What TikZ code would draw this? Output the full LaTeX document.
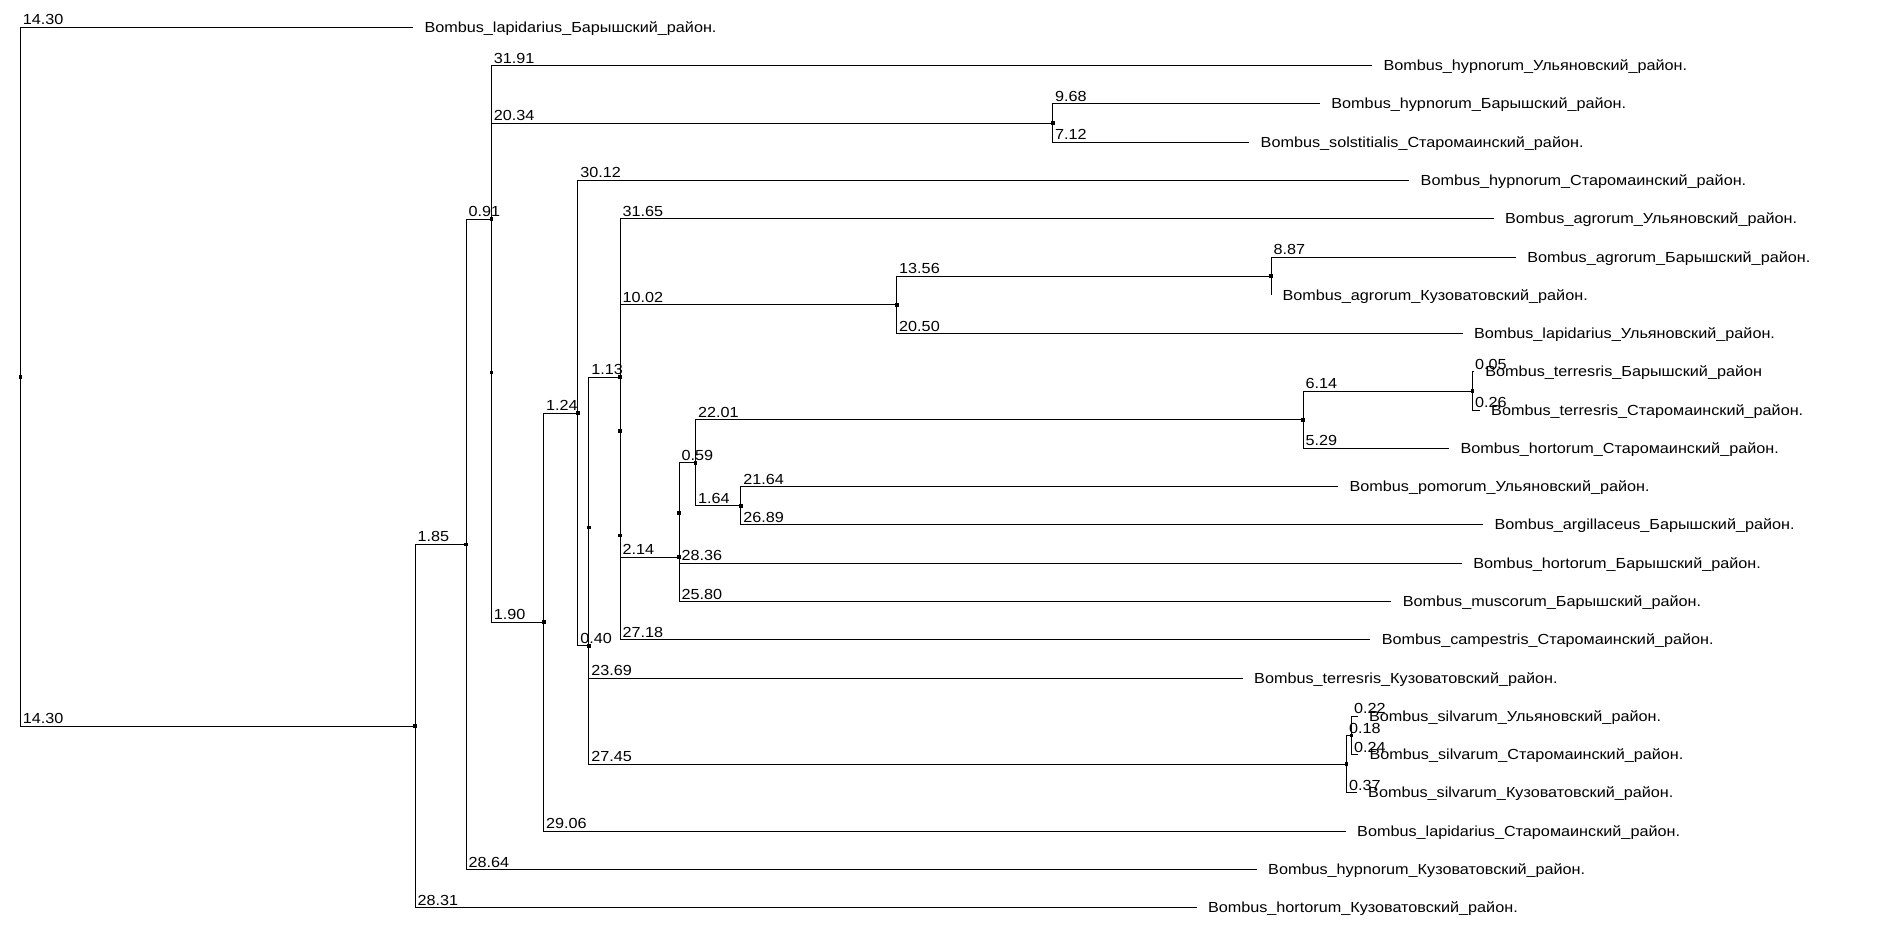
\documentclass[tikz,border=0pt]{standalone}
\usepackage{fontspec}
\setmainfont{Liberation Sans}[FakeStretch=1.11]
\tikzset{
  tree/.style={x=0.5pt, y=-0.5pt, line width=0.5pt},
  leaf/.style={anchor=base west, inner sep=0pt, xshift=5.5pt, yshift=-2.5pt},
  blen/.style={anchor=base west, inner sep=0pt, xshift=1pt, yshift=1.25pt},
}

\begin{document}
\begin{tikzpicture}[tree, font=\fontsize{7.3pt}{8pt}\selectfont]
  \useasboundingbox (0,0) rectangle (1898,947);
  % inner nodes
  \coordinate (R) at (20.4,376.7);
  \coordinate (A) at (415.1,726.0);
  \coordinate (B) at (466.2,544.3);
  \coordinate (C) at (491.3,219.1);
  \coordinate (D) at (491.3,372.6);
  \coordinate (E) at (1052.7,123.0);
  \coordinate (F) at (543.7,622.2);
  \coordinate (G) at (577.9,413.2);
  \coordinate (H) at (588.9,645.9);
  \coordinate (H2) at (588.9,527.6);
  \coordinate (I) at (620.1,377.0);
  \coordinate (I2) at (620.1,535.4);
  \coordinate (I3) at (620.1,431.0);
  \coordinate (K) at (896.7,304.8);
  \coordinate (N) at (1271.0,276.2);
  \coordinate (M) at (679.2,557.2);
  \coordinate (M2) at (679.2,513.0);
  \coordinate (P) at (695.5,462.7);
  \coordinate (Q) at (1303.0,419.7);
  \coordinate (T) at (1472.5,391.0);
  \coordinate (S) at (740.8,505.8);
  \coordinate (J) at (1346.5,764.2);
  \coordinate (U) at (1351.5,735.5);
  % leaves
  \coordinate (l1) at (413.0,27.3);
  \coordinate (l2) at (1372.0,65.6);
  \coordinate (l3) at (1319.9,103.9);
  \coordinate (l4) at (1249.2,142.1);
  \coordinate (l5) at (1409.2,180.4);
  \coordinate (l6) at (1493.6,218.7);
  \coordinate (l7) at (1515.8,257.0);
  \coordinate (l8) at (1271.0,295.3);
  \coordinate (l9) at (1462.5,333.5);
  \coordinate (l10) at (1473.9,371.8);
  \coordinate (l11) at (1479.7,410.1);
  \coordinate (l12) at (1449.0,448.4);
  \coordinate (l13) at (1338.1,486.7);
  \coordinate (l14) at (1483.0,524.9);
  \coordinate (l15) at (1461.9,563.2);
  \coordinate (l16) at (1391.3,601.5);
  \coordinate (l17) at (1370.3,639.8);
  \coordinate (l18) at (1242.7,678.1);
  \coordinate (l19) at (1357.6,716.3);
  \coordinate (l20) at (1358.1,754.6);
  \coordinate (l21) at (1356.7,792.9);
  \coordinate (l22) at (1345.7,831.2);
  \coordinate (l23) at (1256.7,869.5);
  \coordinate (l24) at (1196.5,907.7);

  % branches
  \draw (R) |- (l1) node[pos=0.5,blen] {14.30} node[leaf] (t1) {Bombus\_lapidarius\_Барышский\_район.};
  \draw (R) |- (A) node[pos=0.5,blen] {14.30};
  \draw (A) |- (B) node[pos=0.5,blen] {1.85};
  \draw (A) |- (l24) node[pos=0.5,blen] {28.31} node[leaf] (t24) {Bombus\_hortorum\_Кузоватовский\_район.};
  \draw (B) |- (C) node[pos=0.5,blen] {0.91};
  \draw (B) |- (l23) node[pos=0.5,blen] {28.64} node[leaf] (t23) {Bombus\_hypnorum\_Кузоватовский\_район.};
  \draw (C) |- (l2) node[pos=0.5,blen] {31.91} node[leaf] (t2) {Bombus\_hypnorum\_Ульяновский\_район.};
  \draw (C) -- (D);
  \draw (D) |- (E) node[pos=0.5,blen] {20.34};
  \draw (D) |- (F) node[pos=0.5,blen] {1.90};
  \draw (E) |- (l3) node[pos=0.5,blen] {9.68} node[leaf] (t3) {Bombus\_hypnorum\_Барышский\_район.};
  \draw (E) |- (l4) node[pos=0.5,blen] {7.12} node[leaf] (t4) {Bombus\_solstitialis\_Старомаинский\_район.};
  \draw (F) |- (G) node[pos=0.5,blen] {1.24};
  \draw (F) |- (l22) node[pos=0.5,blen] {29.06} node[leaf] (t22) {Bombus\_lapidarius\_Старомаинский\_район.};
  \draw (G) |- (l5) node[pos=0.5,blen] {30.12} node[leaf] (t5) {Bombus\_hypnorum\_Старомаинский\_район.};
  \draw (G) |- (H) node[pos=0.5,blen] {0.40};
  \draw (H) -- (H2);
  \draw (H) |- (J) node[pos=0.5,blen] {27.45};
  \draw (H2) |- (I) node[pos=0.5,blen] {1.13};
  \draw (H2) |- (l18) node[pos=0.5,blen] {23.69} node[leaf] (t18) {Bombus\_terresris\_Кузоватовский\_район.};
  \draw (I) |- (l6) node[pos=0.5,blen] {31.65} node[leaf] (t6) {Bombus\_agrorum\_Ульяновский\_район.};
  \draw (I) -- (I2);
  \draw (I2) -- (I3);
  \draw (I2) |- (l17) node[pos=0.5,blen] {27.18} node[leaf] (t17) {Bombus\_campestris\_Старомаинский\_район.};
  \draw (I3) |- (K) node[pos=0.5,blen] {10.02};
  \draw (I3) |- (M) node[pos=0.5,blen] {2.14};
  \draw (K) |- (N) node[pos=0.5,blen] {13.56};
  \draw (K) |- (l9) node[pos=0.5,blen] {20.50} node[leaf] (t9) {Bombus\_lapidarius\_Ульяновский\_район.};
  \draw (N) |- (l7) node[pos=0.5,blen] {8.87} node[leaf] (t7) {Bombus\_agrorum\_Барышский\_район.};
  \draw (N) -- (l8) node[leaf] (t8) {Bombus\_agrorum\_Кузоватовский\_район.};
  \draw (M) -- (M2);
  \draw (M) |- (l16) node[pos=0.5,blen] {25.80} node[leaf] (t16) {Bombus\_muscorum\_Барышский\_район.};
  \draw (M2) |- (P) node[pos=0.5,blen] {0.59};
  \draw (M2) |- (l15) node[pos=0.5,blen] {28.36} node[leaf] (t15) {Bombus\_hortorum\_Барышский\_район.};
  \draw (P) |- (Q) node[pos=0.5,blen] {22.01};
  \draw (P) |- (S) node[pos=0.5,blen] {1.64};
  \draw (Q) |- (T) node[pos=0.5,blen] {6.14};
  \draw (Q) |- (l12) node[pos=0.5,blen] {5.29} node[leaf] (t12) {Bombus\_hortorum\_Старомаинский\_район.};
  \draw (T) |- (l10) node[pos=0.5,blen] {0.05} node[leaf] (t10) {Bombus\_terresris\_Барышский\_район};
  \draw (T) |- (l11) node[pos=0.5,blen] {0.26} node[leaf] (t11) {Bombus\_terresris\_Старомаинский\_район.};
  \draw (S) |- (l13) node[pos=0.5,blen] {21.64} node[leaf] (t13) {Bombus\_pomorum\_Ульяновский\_район.};
  \draw (S) |- (l14) node[pos=0.5,blen] {26.89} node[leaf] (t14) {Bombus\_argillaceus\_Барышский\_район.};
  \draw (J) |- (U) node[pos=0.5,blen] {0.18};
  \draw (J) |- (l21) node[pos=0.5,blen] {0.37} node[leaf] (t21) {Bombus\_silvarum\_Кузоватовский\_район.};
  \draw (U) |- (l19) node[pos=0.5,blen] {0.22} node[leaf] (t19) {Bombus\_silvarum\_Ульяновский\_район.};
  \draw (U) |- (l20) node[pos=0.5,blen] {0.24} node[leaf] (t20) {Bombus\_silvarum\_Старомаинский\_район.};

  % node marks
  \foreach \n in {R,A,B,C,D,E,F,G,H,H2,I,I2,I3,K,N,M,M2,P,Q,T,S,J,U}
    \fill (\n) +(-0.9pt,-0.9pt) rectangle +(0.9pt,0.9pt);
\end{tikzpicture}
\end{document}
